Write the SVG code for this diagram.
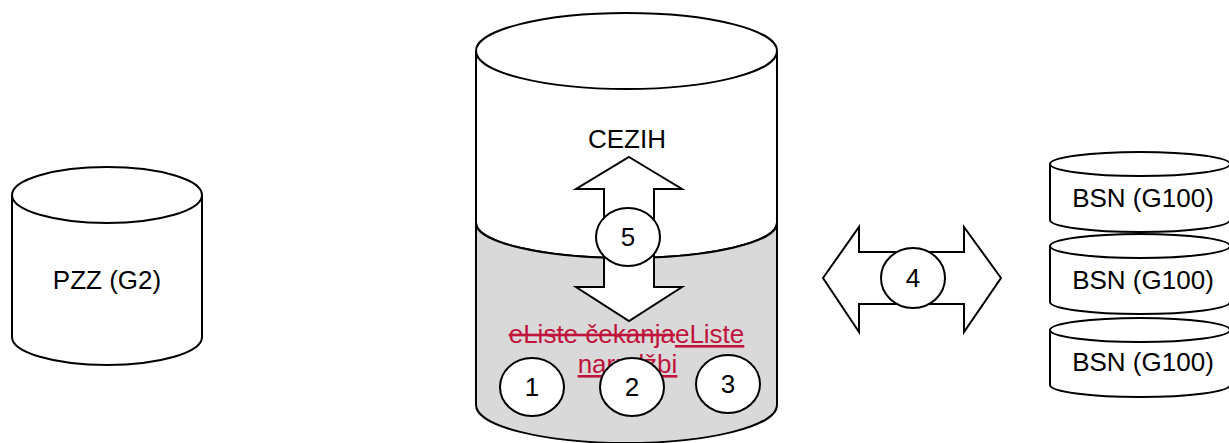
<svg xmlns="http://www.w3.org/2000/svg" width="1229" height="443" viewBox="0 0 1229 443">
<style>
.s{stroke:#000;stroke-width:2;fill:#fff}
.g{stroke:#000;stroke-width:2;fill:#d9d9d9}
.t{font-family:"Liberation Sans",Arial,sans-serif;font-size:26px;fill:#000;text-anchor:middle}
.r{font-family:"Liberation Sans",Arial,sans-serif;font-size:26px;fill:#c0143c;text-anchor:middle}
</style>
<rect width="1229" height="443" fill="#fff"/>
<g id="pzz">
<path class="s" d="M12,195 L12,337 A95,28 0 0 0 202,337 L202,195"/>
<ellipse class="s" cx="107" cy="195" rx="95" ry="28"/>
<text class="t" x="107" y="289">PZZ (G2)</text>
</g>
<g id="cezih">
<path class="s" d="M476,51 L476,223 A150.5,35 0 0 0 777,223 L777,51"/>
<path class="g" d="M476,223 A150.5,35 0 0 0 777,223 L777,405 A150.5,38 0 0 1 476,405 Z"/>
<ellipse class="s" cx="626.5" cy="51" rx="150.5" ry="38"/>
<text class="t" x="627" y="148">CEZIH</text>
<text class="r" x="626.5" y="343"><tspan text-decoration="line-through">eListe čekanja</tspan><tspan text-decoration="underline">eListe</tspan></text>
<text class="r" x="627.5" y="373" text-decoration="underline">narudžbi</text>
</g>
<g id="connectors">
<path class="s" d="M629,157 L682,189 L654,189 L654,287 L682,287 L629,321 L576,287 L604,287 L604,189 L576,189 Z"/>
<path class="s" d="M823,278 L859,227 L859,252 L964,252 L964,227 L1001,278 L964,332 L964,304 L859,304 L859,332 Z"/>
</g>
<g id="n5">
<ellipse class="s" cx="628" cy="237" rx="32" ry="29"/>
<text class="t" x="628" y="246">5</text>
</g>
<g id="n4">
<ellipse class="s" cx="913" cy="278" rx="32" ry="30"/>
<text class="t" x="913" y="287">4</text>
</g>
<g id="n1">
<ellipse class="s" cx="532" cy="387" rx="32" ry="29"/>
<text class="t" x="532" y="396">1</text>
</g>
<g id="n2">
<ellipse class="s" cx="632" cy="387" rx="32" ry="29"/>
<text class="t" x="632" y="396">2</text>
</g>
<g id="n3">
<ellipse class="s" cx="728" cy="384" rx="32" ry="29"/>
<text class="t" x="728" y="393">3</text>
</g>
<g id="bsn1">
<path class="s" d="M1050,164 L1050,220 A90,12 0 0 0 1230,220 L1230,164"/>
<ellipse class="s" cx="1140" cy="164" rx="90" ry="12"/>
<text class="t" x="1143" y="207">BSN (G100)</text>
</g>
<g id="bsn2">
<path class="s" d="M1050,246 L1050,302 A90,12 0 0 0 1230,302 L1230,246"/>
<ellipse class="s" cx="1140" cy="246" rx="90" ry="12"/>
<text class="t" x="1143" y="289">BSN (G100)</text>
</g>
<g id="bsn3">
<path class="s" d="M1050,330 L1050,385 A90,12 0 0 0 1230,385 L1230,330"/>
<ellipse class="s" cx="1140" cy="330" rx="90" ry="12"/>
<text class="t" x="1143" y="371">BSN (G100)</text>
</g>
</svg>
